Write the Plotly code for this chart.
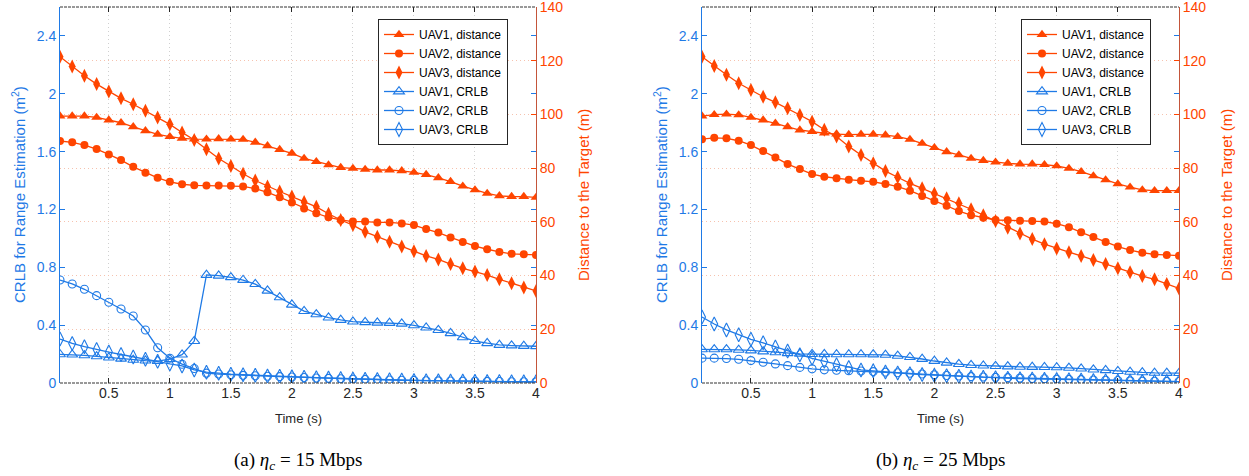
import plotly.graph_objects as go

# Time samples (s)
time_s = [0.1, 0.2, 0.3, 0.4, 0.5, 0.6, 0.7, 0.8, 0.9, 1.0,
          1.1, 1.2, 1.3, 1.4, 1.5, 1.6, 1.7, 1.8, 1.9, 2.0,
          2.1, 2.2, 2.3, 2.4, 2.5, 2.6, 2.7, 2.8, 2.9, 3.0,
          3.1, 3.2, 3.3, 3.4, 3.5, 3.6, 3.7, 3.8, 3.9, 4.0]

# (a) eta_c = 15 Mbps : distance to the target (m)
dist_uav1_a = [99.4, 99.4, 99.4, 98.9, 97.9, 96.9, 95.4, 93.9, 92.6, 91.7,
               91.1, 90.8, 90.8, 90.9, 90.8, 90.7, 89.6, 88.3, 86.9, 85.5,
               83.6, 82.4, 81.2, 80.2, 79.9, 79.5, 79.3, 79.3, 79.0, 78.4,
               77.6, 76.4, 75.0, 73.3, 71.9, 70.6, 69.7, 69.4, 69.4, 69.1]
dist_uav2_a = [90.1, 89.6, 88.6, 87.1, 85.1, 83.0, 80.5, 78.3, 76.4, 74.9,
               74.0, 73.6, 73.5, 73.5, 73.4, 73.2, 72.4, 71.0, 69.2, 67.2,
               65.0, 63.2, 61.7, 60.7, 60.1, 60.1, 59.8, 59.8, 59.4, 58.8,
               57.3, 56.0, 54.2, 52.5, 51.0, 49.8, 48.8, 48.1, 47.9, 47.7]
dist_uav3_a = [121.5, 117.8, 114.4, 111.3, 108.5, 106.0, 103.8, 101.4, 98.9, 96.3,
               93.3, 90.5, 87.0, 83.6, 80.8, 77.9, 75.4, 73.2, 71.3, 69.4,
               67.4, 65.6, 63.0, 60.7, 58.8, 56.3, 54.5, 52.6, 50.8, 49.1,
               47.3, 46.0, 44.3, 42.7, 41.5, 40.2, 38.6, 37.1, 35.6, 34.3]

# (a) CRLB for range estimation (m^2)
crlb_uav1_a = [0.198, 0.196, 0.191, 0.184, 0.176, 0.168, 0.160, 0.155, 0.152, 0.165,
               0.196, 0.290, 0.747, 0.742, 0.731, 0.712, 0.684, 0.638, 0.592, 0.541,
               0.497, 0.475, 0.452, 0.436, 0.424, 0.420, 0.417, 0.415, 0.410, 0.399,
               0.383, 0.366, 0.344, 0.316, 0.290, 0.275, 0.263, 0.259, 0.256, 0.254]
crlb_uav2_a = [0.712, 0.685, 0.648, 0.604, 0.558, 0.512, 0.463, 0.367, 0.244, 0.171,
               0.130, 0.100, 0.068, 0.062, 0.057, 0.053, 0.050, 0.047, 0.044, 0.041,
               0.038, 0.035, 0.032, 0.029, 0.027, 0.025, 0.023, 0.021, 0.019, 0.018,
               0.016, 0.015, 0.014, 0.013, 0.012, 0.011, 0.010, 0.009, 0.009, 0.008]
crlb_uav3_a = [0.304, 0.274, 0.251, 0.231, 0.214, 0.197, 0.180, 0.165, 0.150, 0.132,
               0.118, 0.090, 0.075, 0.067, 0.061, 0.057, 0.053, 0.049, 0.046, 0.043,
               0.040, 0.037, 0.034, 0.031, 0.028, 0.026, 0.024, 0.022, 0.020, 0.018,
               0.016, 0.015, 0.014, 0.013, 0.012, 0.011, 0.010, 0.009, 0.008, 0.008]

# (b) eta_c = 25 Mbps : distance to the target (m)
dist_uav1_b = [99.4, 99.9, 100.1, 99.8, 98.9, 97.9, 96.7, 95.4, 94.2, 93.6,
               93.0, 92.7, 92.5, 92.6, 92.6, 92.3, 91.7, 90.7, 89.2, 87.6,
               86.1, 84.9, 83.6, 82.8, 82.2, 81.8, 81.5, 81.5, 81.3, 80.8,
               79.9, 78.7, 77.1, 75.6, 74.1, 72.9, 71.9, 71.6, 71.6, 71.6]
dist_uav2_b = [90.8, 91.3, 91.1, 90.2, 88.6, 86.4, 84.0, 81.5, 79.7, 77.8,
               76.8, 76.2, 75.7, 75.3, 74.9, 74.1, 73.1, 71.6, 69.6, 67.8,
               66.0, 64.0, 62.5, 61.5, 60.7, 60.6, 60.4, 60.3, 60.1, 59.3,
               58.0, 56.1, 54.4, 52.5, 50.8, 49.5, 48.5, 47.9, 47.7, 47.4]
dist_uav3_b = [121.5, 118.0, 114.8, 111.6, 109.1, 106.6, 104.5, 102.3, 99.8, 97.3,
               94.3, 91.8, 88.1, 84.9, 81.8, 78.9, 76.6, 74.3, 72.5, 70.6,
               68.8, 66.9, 64.7, 62.5, 60.3, 57.8, 55.7, 53.6, 51.7, 50.1,
               48.7, 47.3, 45.8, 44.3, 42.7, 41.2, 39.8, 38.6, 36.9, 35.2]

# (b) CRLB for range estimation (m^2)
crlb_uav1_b = [0.233, 0.233, 0.233, 0.229, 0.225, 0.218, 0.212, 0.206, 0.202, 0.200,
               0.199, 0.198, 0.198, 0.198, 0.197, 0.194, 0.188, 0.179, 0.166, 0.152,
               0.140, 0.131, 0.124, 0.120, 0.117, 0.114, 0.112, 0.111, 0.110, 0.108,
               0.105, 0.099, 0.093, 0.088, 0.082, 0.077, 0.073, 0.070, 0.069, 0.068]
crlb_uav2_b = [0.172, 0.172, 0.169, 0.164, 0.155, 0.143, 0.132, 0.120, 0.108, 0.098,
               0.091, 0.088, 0.085, 0.083, 0.079, 0.075, 0.071, 0.067, 0.062, 0.057,
               0.052, 0.048, 0.044, 0.041, 0.039, 0.037, 0.034, 0.031, 0.029, 0.027,
               0.025, 0.023, 0.021, 0.019, 0.017, 0.015, 0.013, 0.012, 0.011, 0.010]
crlb_uav3_b = [0.456, 0.408, 0.367, 0.334, 0.302, 0.278, 0.249, 0.222, 0.196, 0.171,
               0.150, 0.127, 0.107, 0.090, 0.084, 0.076, 0.070, 0.064, 0.058, 0.054,
               0.050, 0.046, 0.042, 0.039, 0.036, 0.033, 0.030, 0.028, 0.026, 0.024,
               0.022, 0.020, 0.018, 0.016, 0.014, 0.013, 0.012, 0.011, 0.010, 0.009]

x_tick_vals = [0.5, 1, 1.5, 2, 2.5, 3, 3.5, 4]
x_tick_text = ["0.5", "1", "1.5", "2", "2.5", "3", "3.5", "4"]
crlb_tick_vals = [0, 0.4, 0.8, 1.2, 1.6, 2.0, 2.4]
crlb_tick_text = ["0", "0.4", "0.8", "1.2", "1.6", "2", "2.4"]
dist_tick_vals = [0, 20, 40, 60, 80, 100, 120, 140]

series_names = ["UAV1", "UAV2", "UAV3"]
captions = ["(a) <i>η<sub>c</sub></i> = 15 Mbps", "(b) <i>η<sub>c</sub></i> = 25 Mbps"]

RED = "#FF4500"
BLUE = "#1F7AE6"
RIGHT_LINE = "#C4553A"
W, H = 1249, 476
FONT = "Liberation Sans, Arial, sans-serif"

# plot area in pixels: margins leave room for the axis labels and captions
TOP, BOT = 7, 383
AREA_H = BOT - TOP
panels_px = [(60, 536), (702, 1179)]


def ypaper(px):
    """Pixel row -> paper coordinate relative to the plot area."""
    return (BOT - px) / AREA_H


fig = go.Figure()

panel_data = [
    ([dist_uav1_a, dist_uav2_a, dist_uav3_a], [crlb_uav1_a, crlb_uav2_a, crlb_uav3_a]),
    ([dist_uav1_b, dist_uav2_b, dist_uav3_b], [crlb_uav1_b, crlb_uav2_b, crlb_uav3_b]),
]
filled_syms = ["triangle-up", "circle", "diamond-tall"]
open_syms = ["triangle-up-open", "circle-open", "diamond-tall-open"]
sym_sizes = [9.5, 8, 10]

layout = {}
annotations = []
shapes = []

for p, ((dists, crlbs), (x0, x1)) in enumerate(zip(panel_data, panels_px)):
    xa = "x" if p == 0 else "x2"
    ya_l = "y" if p == 0 else "y3"
    ya_r = "y2" if p == 0 else "y4"
    leg = "legend" if p == 0 else "legend2"

    for i, d in enumerate(dists):
        fig.add_trace(go.Scatter(
            x=time_s, y=d, xaxis=xa, yaxis=ya_r, mode="lines+markers",
            name=f"{series_names[i]}, distance", legend=leg,
            line=dict(color=RED, width=1.3),
            marker=dict(symbol=filled_syms[i], size=sym_sizes[i], color=RED,
                        line=dict(width=0)),
        ))
    for i, c in enumerate(crlbs):
        fig.add_trace(go.Scatter(
            x=time_s, y=c, xaxis=xa, yaxis=ya_l, mode="lines+markers",
            name=f"{series_names[i]}, CRLB", legend=leg,
            line=dict(color=BLUE, width=1.3),
            marker=dict(symbol=open_syms[i], size=sym_sizes[i], color=BLUE,
                        line=dict(width=1.1, color=BLUE)),
        ))

    xdom = [x0 / W, x1 / W]
    xkey = "xaxis" if p == 0 else "xaxis2"
    ylkey = "yaxis" if p == 0 else "yaxis3"
    yrkey = "yaxis2" if p == 0 else "yaxis4"

    layout[xkey] = dict(
        domain=xdom, range=[0.1, 4], anchor=ya_l,
        tickvals=x_tick_vals, ticktext=x_tick_text,
        ticks="inside", ticklen=5, tickcolor="#262626", mirror="ticks",
        showline=False, showgrid=True, gridcolor="#d0d0d0", griddash="1px,3px",
        gridwidth=1, zeroline=False, ticklabeloverflow="allow",
        tickfont=dict(family=FONT, size=14, color="#262626"),
    )
    layout[ylkey] = dict(
        domain=[0, 1], range=[0, 2.6], anchor=xa,
        tickvals=crlb_tick_vals, ticktext=crlb_tick_text,
        ticks="inside", ticklen=5, tickcolor=BLUE, mirror="ticks",
        showline=True, linecolor=BLUE, linewidth=1,
        showgrid=False, zeroline=False, ticklabeloverflow="allow",
        tickfont=dict(family=FONT, size=14, color=BLUE),
    )
    layout[yrkey] = dict(
        range=[0, 140], overlaying=ya_l, side="right", anchor=xa,
        tickvals=dist_tick_vals,
        ticks="inside", ticklen=5, tickcolor=RED,
        showline=True, linecolor=RIGHT_LINE, linewidth=1,
        showgrid=True, gridcolor="#f6c2ae", griddash="1px,3px", gridwidth=1,
        zeroline=False, ticklabeloverflow="allow",
        tickfont=dict(family=FONT, size=14, color=RED),
    )

    # box edges at top and bottom
    for yy in (0, 1):
        shapes.append(dict(type="line", xref="paper", yref="paper",
                           x0=xdom[0], x1=xdom[1], y0=yy, y1=yy,
                           line=dict(color="#333333", width=1, dash="3px,1px")))

    cx = (x0 + x1) / 2 / W
    common = dict(xref="paper", yref="paper", showarrow=False,
                  xanchor="center", yanchor="middle")
    annotations += [
        dict(text="CRLB for Range Estimation (m<sup>2</sup>)", textangle=-90,
             x=(x0 - 42) / W, y=0.5,
             font=dict(family=FONT, size=15, color=BLUE), **common),
        dict(text="Distance to the Target (m)", textangle=-90,
             x=(x1 + 47) / W, y=0.5,
             font=dict(family=FONT, size=15, color=RED), **common),
        dict(text="Time (s)", x=cx, y=ypaper(418),
             font=dict(family=FONT, size=13, color="#262626"), **common),
        dict(text=captions[p], x=cx, y=ypaper(461),
             font=dict(family="Liberation Serif, Times New Roman, serif",
                       size=19, color="black"), **common),
    ]

legend_style = dict(
    bgcolor="white", bordercolor="#262626", borderwidth=1,
    font=dict(family=FONT, size=12, color="black"),
    xanchor="left", yanchor="top", tracegroupgap=0,
    itemwidth=30,
)
layout["legend"] = dict(x=378 / W, y=ypaper(19), **legend_style)
layout["legend2"] = dict(x=1021 / W, y=ypaper(19), **legend_style)

fig.update_layout(
    width=W, height=H,
    margin=dict(l=0, r=0, t=TOP, b=H - BOT, autoexpand=False),
    paper_bgcolor="white", plot_bgcolor="white",
    annotations=annotations, shapes=shapes,
    **layout,
)

fig.write_html("out.html")
